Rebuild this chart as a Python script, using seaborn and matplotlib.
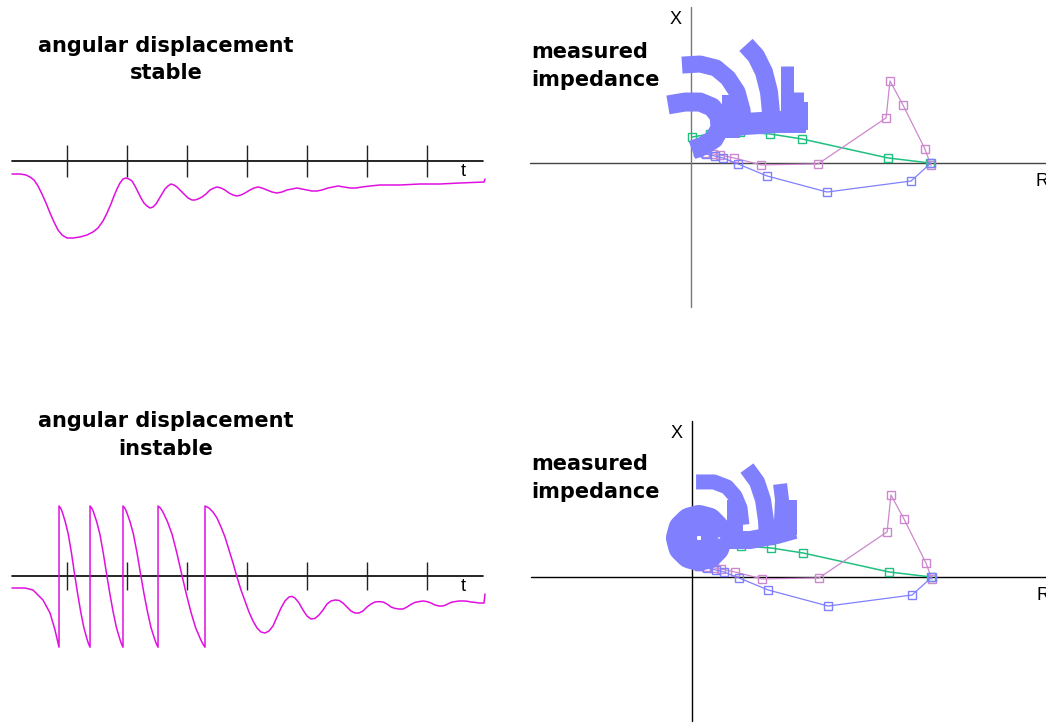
"""Power swing illustration: rotor angle vs time and measured impedance trajectory."""

import matplotlib.pyplot as plt
import seaborn as sns

# ---- rotor angle (deg) vs time (s) -------------------------------------
stable_t = [0.083, 0.217, 0.317, 0.383, 0.45, 0.517, 0.583, 0.65, 0.717, 0.783,
            0.85, 0.917, 1.0, 1.1, 1.217, 1.333, 1.433, 1.517, 1.6, 1.667,
            1.733, 1.783, 1.833, 1.883, 1.933, 1.983, 2.033, 2.083, 2.133,
            2.183, 2.233, 2.283, 2.333, 2.383, 2.433, 2.483, 2.533, 2.583,
            2.633, 2.683, 2.733, 2.783, 2.833, 2.883, 2.95, 3.017, 3.083,
            3.133, 3.183, 3.25, 3.317, 3.383, 3.45, 3.5, 3.567, 3.633, 3.7,
            3.767, 3.833, 3.9, 3.967, 4.05, 4.117, 4.183, 4.25, 4.333, 4.417,
            4.5, 4.583, 4.667, 4.75, 4.833, 4.917, 5.0, 5.083, 5.167, 5.25,
            5.35, 5.433, 5.517, 5.617, 5.717, 5.817, 5.917, 6.05, 6.217, 6.55,
            6.883, 7.217, 7.55, 7.95, 7.967]
stable_angle = [-32.5, -32.5, -35, -40, -47.5, -62.5, -82.5, -105, -130, -152.5,
                -172.5, -185, -192.5, -192.5, -190, -185, -177.5, -167.5, -150,
                -130, -107.5, -87.5, -70, -55, -45, -42.5, -45, -50, -62.5,
                -77.5, -92.5, -105, -112.5, -117.5, -115, -107.5, -95, -82.5,
                -70, -62.5, -57.5, -60, -65, -72.5, -82.5, -92.5, -97.5,
                -97.5, -95, -90, -82.5, -72.5, -67.5, -65, -67.5, -72.5, -80,
                -85, -87.5, -85, -80, -72.5, -67.5, -65, -67.5, -72.5, -77.5,
                -80, -77.5, -72.5, -70, -67.5, -70, -72.5, -75, -75, -72.5,
                -67.5, -65, -62.5, -65, -67.5, -67.5, -65, -62.5, -60, -60,
                -57.5, -57.5, -55, -52.5, -45]

instable_t = [0.083, 0.3, 0.433, 0.6, 0.717, 0.8, 0.867,
              0.867, 0.893, 0.919, 0.970, 1.022, 1.074, 1.125, 1.177, 1.229,
              1.281, 1.332, 1.358, 1.384,
              1.384, 1.411, 1.439, 1.494, 1.549, 1.604, 1.659, 1.714, 1.769,
              1.824, 1.879, 1.906, 1.933,
              1.933, 1.962, 1.991, 2.050, 2.108, 2.167, 2.225, 2.283, 2.342,
              2.400, 2.459, 2.488, 2.517,
              2.517, 2.556, 2.595, 2.674, 2.752, 2.830, 2.909, 2.987, 3.065,
              3.143, 3.222, 3.261, 3.300,
              3.3, 3.367, 3.433, 3.5, 3.567, 3.633, 3.7, 3.767, 3.833, 3.9,
              3.967, 4.033, 4.1, 4.167, 4.233, 4.3, 4.367, 4.433, 4.5, 4.567,
              4.633, 4.7, 4.75, 4.8, 4.867, 4.933, 5.0, 5.067, 5.133, 5.2,
              5.267, 5.333, 5.4, 5.467, 5.533, 5.6, 5.667, 5.733, 5.8, 5.867,
              5.933, 6.0, 6.067, 6.133, 6.2, 6.267, 6.333, 6.4, 6.467, 6.533,
              6.6, 6.667, 6.733, 6.8, 6.867, 6.933, 7.0, 7.067, 7.133, 7.2,
              7.267, 7.333, 7.4, 7.467, 7.533, 7.6, 7.667, 7.733, 7.8, 7.867,
              7.95, 7.967]
instable_angle = [-30, -30, -35, -60, -92.5, -135, -178,
                  175, 170, 161, 136, 104, 58, 6, -44, -90, -129, -157, -169, -178,
                  175, 170, 161, 136, 104, 58, 6, -44, -90, -129, -157, -169, -178,
                  175, 170, 161, 136, 104, 58, 6, -44, -90, -129, -157, -169, -178,
                  175, 170, 161, 136, 104, 58, 6, -44, -90, -129, -157, -169, -178,
                  175, 170, 160, 145, 122.5, 97.5, 65, 32.5, -2.5, -35,
                  -62.5, -90, -112.5, -130, -140, -142.5, -137.5, -125, -102.5, -80,
                  -62.5, -52.5, -51, -55, -67.5, -85, -100, -107.5, -106, -97.5,
                  -85, -70, -62.5, -60, -61, -67.5, -77.5, -87.5, -92.5, -92.5,
                  -87.5, -77.5, -70, -65, -64, -65, -70, -77.5, -81, -82.5,
                  -82.5, -77.5, -71, -66, -64, -62.5, -64, -67.5, -72.5, -75,
                  -75, -71, -66, -64, -62.5, -62.5, -63, -65, -66, -67.5,
                  -67.5, -45]
time_ticks = [1, 2, 3, 4, 5, 6, 7]

# ---- impedance trajectories (R, X in ohm) ------------------------------
pink_r = [100, 97.5, 88.3, 82.9, 81.3, 52.9, 29.2, 17.9, 12.1, 9.2, 5.8, 2.9]
pink_x = [-1, 5.8, 24.2, 34.2, 18.8, -0.4, -0.8, 2.1, 3.3, 3.8, 4.2, 4.6]
blue_r = [100, 91.7, 56.7, 31.7, 19.6, 13.3, 10, 6.3, 2.9]
blue_x = [0, -7.5, -12.1, -5.4, -0.4, 2.1, 2.9, 3.8, 4.6]
green_r = [99.6, 82.1, 46.3, 32.9, 20.4, 7.9, 0.4]
green_x = [0, 2.1, 10, 12.1, 12.9, 12.1, 10.8]

# heavy swing loci near the origin: (R list, X list, stroke width in px)
swing_stable = [
    ([-9.6, -2.5, 3.75, 8.75, 11.7, 12.1, 9.6, 5, 0.4],
     [24.2, 25.4, 25.4, 23.3, 19.6, 14.6, 10, 7.1, 5.4], 19),
    ([16.7, 16.7], [28.3, 10.4], 18),
    ([-3.75, 3.75, 10.4, 15.4, 19.2, 21.25, 22.1],
     [40.8, 41.25, 39.6, 35.4, 29.6, 22.1, 14.6], 17),
    ([22.9, 27.1, 30.4, 32.5, 33.3, 33.75],
     [49.2, 44.6, 37.9, 29.6, 21.25, 13.75], 18),
    ([40, 40], [40.4, 13.75], 13),
    ([44.6, 44.6], [29.6, 13.75], 11),
    ([47.3, 47.3], [25.4, 13.75], 6),
    ([11.25, 22.5, 35.8, 47.9], [14.6, 16.25, 17.1, 17.1], 22),
]
swing_instable = [
    ([10.4, 9.4, 6.7, 2.9, -0.8, -3.6, -4.6, -3.6, -0.8, 2.9, 6.7, 9.4, 10.4],
     [16.25, 20, 22.75, 23.75, 22.75, 20, 16.25, 12.5, 9.75, 8.75, 9.75, 12.5, 16.25], 30),
    ([17.9, 17.9], [32.1, 15.4], 16),
    ([1.7, 9.2, 14.6, 17.9, 20, 20.8],
     [39.6, 39.6, 37.5, 33.75, 28.75, 21.7], 15),
    ([22.9, 27.1, 29.6, 30.8, 31.25], [45.4, 39.6, 32.1, 23.75, 16.25], 16),
    ([36.7, 37.5, 37.1, 35.8], [38.75, 32.1, 23.75, 16.25], 14),
    ([41.7, 41.7], [32.1, 17.5], 10),
    ([11.7, 24.2, 35.4, 42.9], [15.4, 15.4, 17.5, 19.6], 18),
]

W, H = 1046, 725
MAGENTA = "#e010e0"
BLUE = "#8080ff"
PINK = "#cc88cc"
GREEN = "#20c080"

sns.set_theme(style="white")
plt.rcParams["font.family"] = ["DejaVu Sans"]
plt.rcParams["text.color"] = "black"

fig = plt.figure(figsize=(W / 100, H / 100), dpi=100)


def panel(box, origin, sx, sy):
    """Axes over a pixel box, data origin at pixel `origin`, sx/sy px per unit."""
    left, top, right, bottom = box
    ax = fig.add_axes([left / W, 1 - bottom / H, (right - left) / W, (bottom - top) / H])
    ax.set_xlim((left - origin[0]) / sx, (right - origin[0]) / sx)
    ax.set_ylim((origin[1] - bottom) / sy, (origin[1] - top) / sy)
    ax.set_axis_off()
    return ax


def time_panel(box, origin, t, angle, tick_half):
    ax = panel(box, origin, 60, 0.4)
    ax.plot([0.08, 7.93], [0, 0], color="black", lw=1.2)
    ax.vlines(time_ticks, -tick_half, tick_half, color="#222222", lw=1.0)
    sns.lineplot(x=t, y=angle, ax=ax, sort=False, estimator=None,
                 color=MAGENTA, lw=1.1)
    ax.text(7.6, -27, "t", fontsize=13, family="Liberation Sans",
            ha="center", va="center")
    return ax


def impedance_panel(box, origin, swings, axis_colors):
    ax = panel(box, origin, 2.4, 2.4)
    ax.plot([-67, 150], [0, 0], color=axis_colors[0], lw=1.0)
    ax.plot([0, 0], [-60, 65], color=axis_colors[1], lw=1.0)
    for r, x, c in [(green_r, green_x, GREEN), (pink_r, pink_x, PINK),
                    (blue_r, blue_x, BLUE)]:
        sns.lineplot(x=r, y=x, ax=ax, sort=False, estimator=None, color=c,
                     lw=0.9 if c != GREEN else 1.1, marker="s", ms=6,
                     mfc="none", mec=c, mew=1.0)
    for r, x, px in swings:
        sns.lineplot(x=r, y=x, ax=ax, sort=False, estimator=None, color=BLUE,
                     lw=px * 0.72, solid_capstyle="butt",
                     solid_joinstyle="round")
    ax.text(-6.5, 60, "X", fontsize=13, family="Liberation Sans",
            ha="center", va="center")
    ax.text(143.5, -7.5, "R", fontsize=13, family="Liberation Sans",
            ha="left", va="center", clip_on=False)
    return ax


time_panel((0, 120, 500, 260), (7, 161), stable_t, stable_angle, 40)
time_panel((0, 480, 500, 680), (7, 576), instable_t, instable_angle, 36)
impedance_panel((510, 0, W, 320), (691, 163), swing_stable, ("#444444", "#777777"))
impedance_panel((510, 400, W, H), (692, 577), swing_instable, ("black", "black"))

title_kw = dict(fontsize=15, fontweight="bold", va="center")
for y, txt in [(46, "angular displacement"), (73, "stable"),
               (421, "angular displacement"), (449, "instable")]:
    fig.text(166 / W, 1 - y / H, txt, ha="center", **title_kw)
for y, txt in [(52, "measured"), (80, "impedance"),
               (464, "measured"), (492, "impedance")]:
    fig.text(531 / W, 1 - y / H, txt, ha="left", **title_kw)

fig.savefig("out.png", dpi=100)
